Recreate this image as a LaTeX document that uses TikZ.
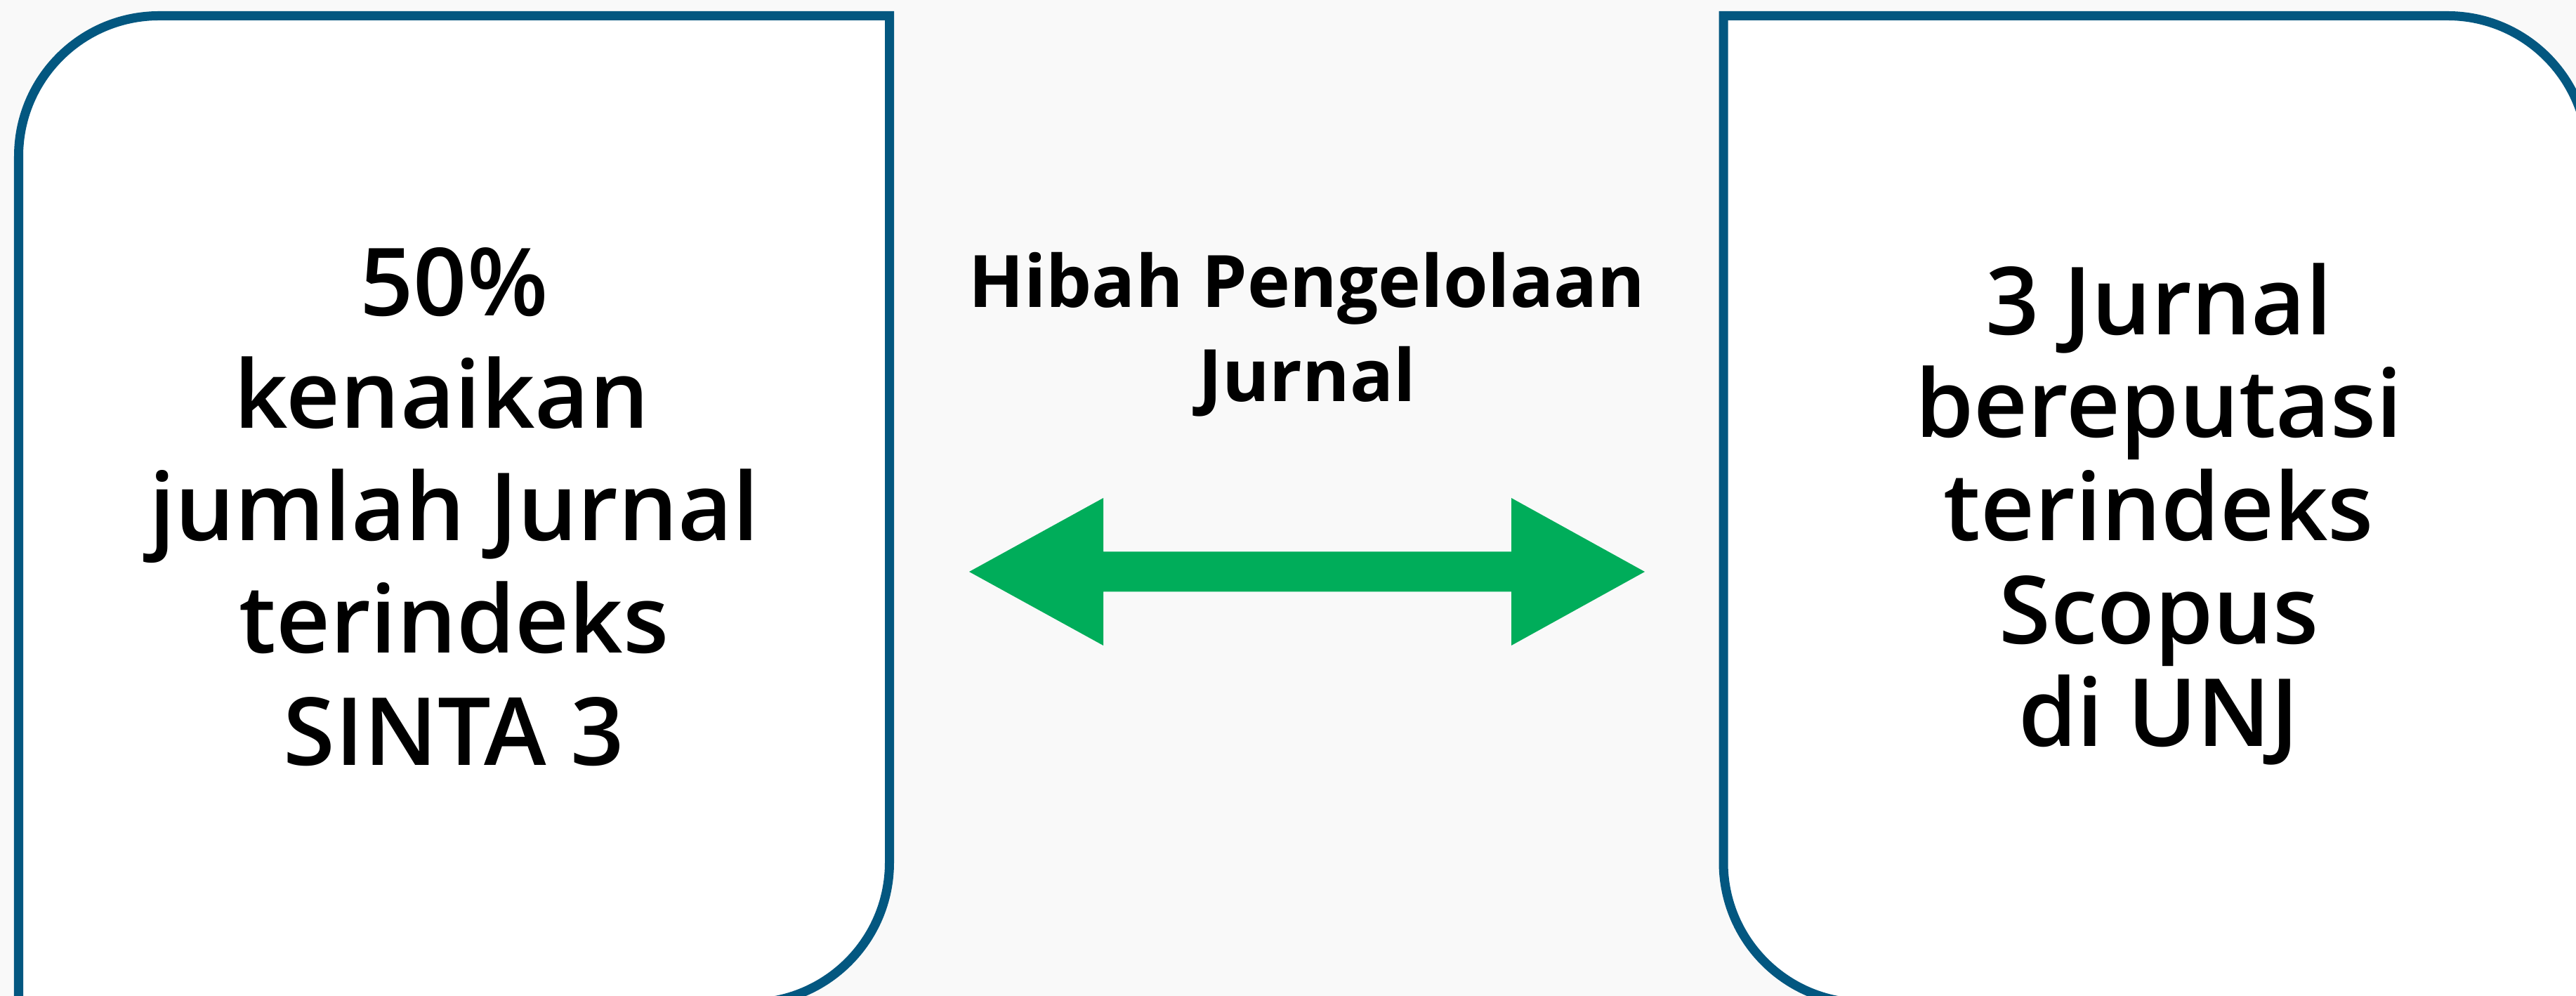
\documentclass[tikz,border=0pt]{standalone}
\usepackage{fontspec}
\setmainfont{Open Sans}
\IfFontExistsTF{Open Sans Semibold}
  {\newfontfamily\semifont{Open Sans Semibold}}
  {\newfontfamily\semifont{Open Sans}[FakeBold=1.3]}
\usepackage{xcolor}

\definecolor{boxblue}{RGB}{3,87,128}
\definecolor{arrowgreen}{RGB}{0,173,90}
\definecolor{bggray}{RGB}{249,249,249}

\tikzset{
  boxline/.style={draw=boxblue, line width=0.13cm, fill=white},
  bigtext/.style={align=center, inner sep=0pt},
}

\begin{document}
\begin{tikzpicture}

\useasboundingbox (0,0) rectangle (36.68,14.18);
\fill[bggray] (0,0) rectangle (36.68,14.18);
\clip (0,0) rectangle (36.68,14.18);

% left box
\draw[boxline] (0.265,-0.1)--(0.265,11.955) arc[start angle=180, end angle=90, radius=2]
  --(12.665,13.955)--(12.665,1.9) arc[start angle=0, end angle=-90, radius=2]--cycle;

% right box
\draw[boxline] (24.54,1.9)--(24.54,13.955)--(34.85,13.955) arc[start angle=90, end angle=0, radius=2]
  --(36.85,-0.1)--(26.54,-0.1) arc[start angle=270, end angle=180, radius=2]--cycle;

\node[bigtext, font=\semifont\fontsize{38.1}{45.5}\selectfont] (naik) at (6.465,6.965)
  {50\%\\kenaikan\kern0.26em\\jumlah Jurnal\\terindeks\\SINTA 3};

\node[bigtext, font=\semifont\fontsize{38.1}{41.7}\selectfont] (scopus) at (30.74,6.86)
  {3 Jurnal\\bereputasi\\terindeks\\Scopus\\di UNJ};

\node[bigtext, font=\bfseries\fontsize{29.3}{38.1}\selectfont] (hibah) at (18.61,9.415)
  {Hibah Pengelolaan\\Jurnal};

% double arrow
\coordinate (tipL) at (13.80,6.04);
\coordinate (tipR) at (23.42,6.04);
\fill[arrowgreen] (tipL)--++(1.91,1.05)--++(0,-0.765)--++(5.81,0)--++(0,0.765)--(tipR)
  --++(-1.9,-1.05)--++(0,0.765)--++(-5.81,0)--++(0,-0.765)--cycle;

\end{tikzpicture}
\end{document}
